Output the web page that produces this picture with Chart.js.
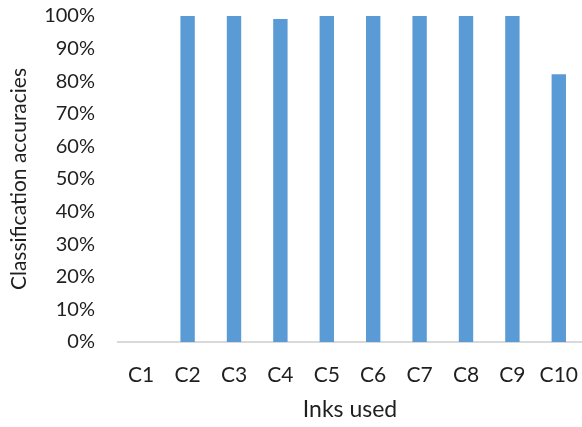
<!DOCTYPE html>
<html>
<head>
<meta charset="utf-8">
<script src="https://cdn.jsdelivr.net/npm/chart.js@4/dist/chart.umd.min.js"></script>
<style>
  html, body { margin: 0; padding: 0; background: #fff; }
  #wrap { width: 582px; height: 427px; position: relative; }
</style>
</head>
<body>
<div id="wrap"><canvas id="c"></canvas></div>
<script>
// Inks and the classification accuracy reached with each one (percent)
const inks = ['C1', 'C2', 'C3', 'C4', 'C5', 'C6', 'C7', 'C8', 'C9', 'C10'];
const accuracies = [0, 100, 100, 99.1, 100, 100, 100, 100, 100, 82.1];
const yTicks = [0, 10, 20, 30, 40, 50, 60, 70, 80, 90, 100];
const yTitle = 'Classification accuracies';
const xTitle = 'Inks used';

const font = "Lato, 'Open Sans', sans-serif";
const textColor = '#1f1f1f';

// Vertical axis title, centred on the plotting area's height
const yTitlePlugin = {
  id: 'yTitle',
  afterDraw(chart) {
    const { ctx, chartArea } = chart;
    ctx.save();
    ctx.translate(19, (chartArea.top + chartArea.bottom) / 2);
    ctx.rotate(-Math.PI / 2);
    ctx.font = `21px ${font}`;
    ctx.fillStyle = textColor;
    ctx.textAlign = 'center';
    ctx.textBaseline = 'middle';
    ctx.fillText(yTitle, 0, 0);
    ctx.restore();
  }
};

new Chart(document.getElementById('c'), {
  type: 'bar',
  data: {
    labels: inks,
    datasets: [{
      data: accuracies,
      backgroundColor: '#5b9bd5',
      borderWidth: 0,
      categoryPercentage: 1,
      barPercentage: 0.31
    }]
  },
  options: {
    responsive: true,
    maintainAspectRatio: false,
    animation: false,
    layout: { padding: { top: 16, right: 0, bottom: 0, left: 0 } },
    plugins: { legend: { display: false }, tooltip: { enabled: false } },
    scales: {
      x: {
        grid: { display: false, drawTicks: false },
        border: { display: true, color: '#d9d9d9', width: 2 },
        ticks: { color: textColor, font: { family: font, size: 21 }, padding: 21 },
        title: { display: true, text: xTitle, color: textColor,
                 font: { family: font, size: 23 }, padding: { top: 9 } },
        afterFit(scale) {
          scale.height = 85;
          scale.paddingLeft = 0;
          scale.paddingRight = 0;
        }
      },
      y: {
        min: 0, max: 100,
        afterBuildTicks(scale) { scale.ticks = yTicks.map(v => ({ value: v })); },
        grid: { display: false, drawTicks: false },
        border: { display: false },
        ticks: { color: textColor, font: { family: font, size: 20 }, padding: 23,
                 callback: v => v + '%' },
        afterFit(scale) {
          scale.width = 118;
          scale.paddingTop = 0;
          scale.paddingBottom = 0;
        }
      }
    }
  },
  plugins: [yTitlePlugin]
});
</script>
</body>
</html>
